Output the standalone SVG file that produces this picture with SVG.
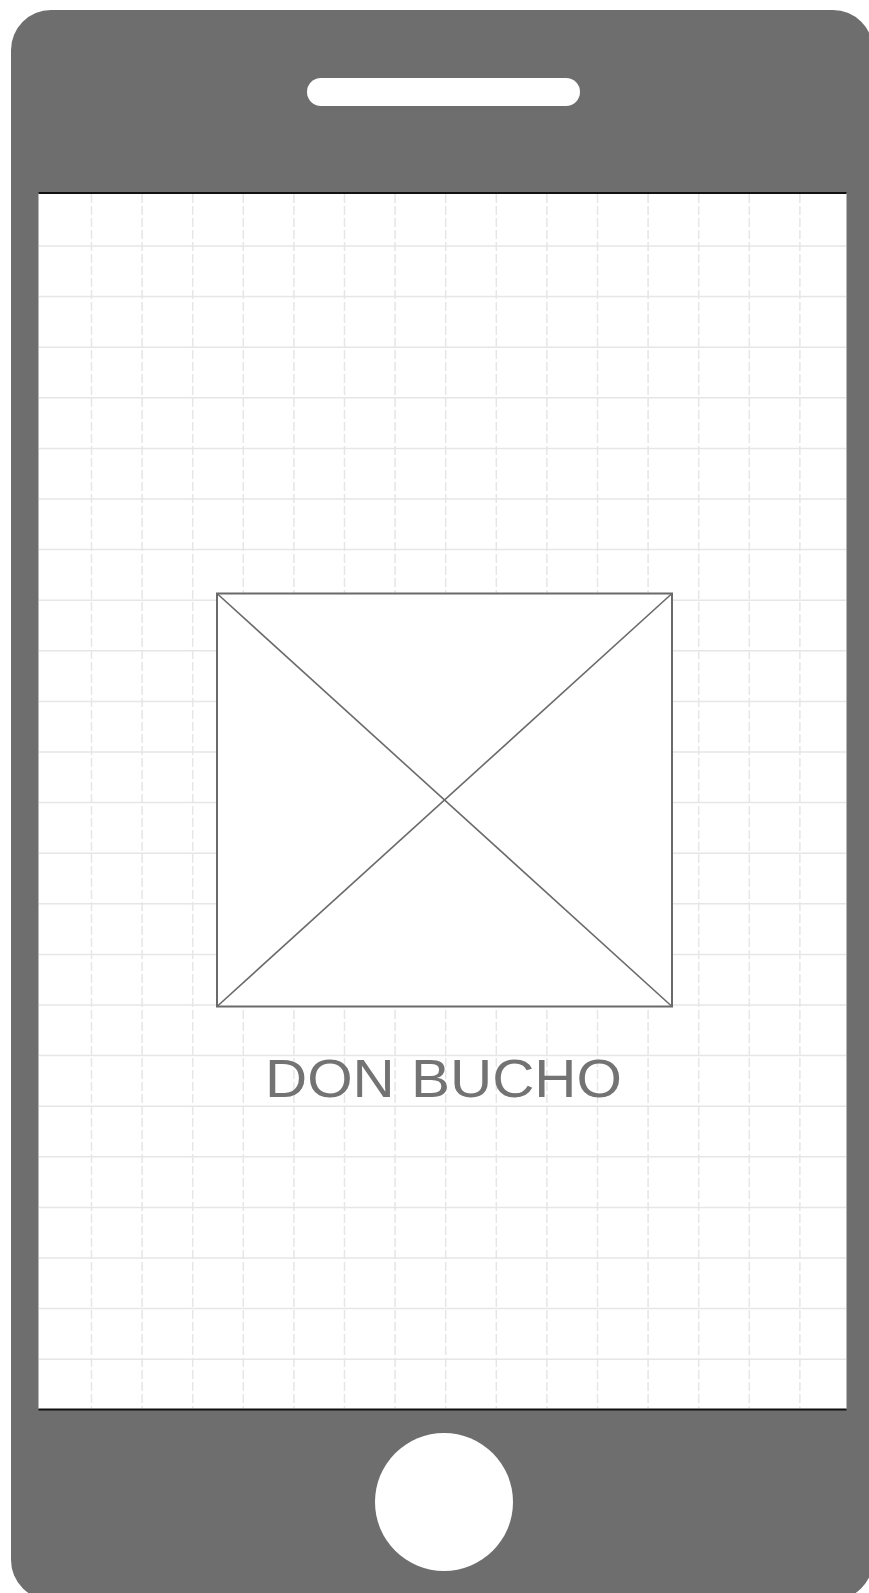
<svg xmlns="http://www.w3.org/2000/svg" width="869" height="1593" viewBox="0 0 869 1593">
<style>
.body{fill:#6e6e6e}
.hole{fill:#ffffff}
.screen{fill:#ffffff}
.edge{stroke:#111111;stroke-width:2}
.gv{stroke:#e6e6e6;stroke-width:1.5;stroke-dasharray:9 3}
.gh{stroke:#e6e6e6;stroke-width:1.5}
.box{fill:#ffffff;stroke:#6a6a6a;stroke-width:2}
.diag{stroke:#6a6a6a;stroke-width:1.6}
.label{font-family:"Liberation Sans",Arial,sans-serif;font-size:54px;fill:#737373}
</style>
<g id="phone">
<rect class="body" x="11" y="10" width="862" height="1590" rx="40" ry="40"/>
<rect id="speaker" class="hole" x="307" y="78" width="273" height="28" rx="14" ry="14"/>
<circle id="home-button" class="hole" cx="444" cy="1502" r="69"/>
</g>
<g id="screen">
<rect class="screen" x="38.5" y="193" width="808" height="1216"/>
<g id="grid">
<line class="gv" x1="91.5" y1="194" x2="91.5" y2="1408"/>
<line class="gv" x1="142.1" y1="194" x2="142.1" y2="1408"/>
<line class="gv" x1="192.7" y1="194" x2="192.7" y2="1408"/>
<line class="gv" x1="243.3" y1="194" x2="243.3" y2="1408"/>
<line class="gv" x1="293.9" y1="194" x2="293.9" y2="1408"/>
<line class="gv" x1="344.5" y1="194" x2="344.5" y2="1408"/>
<line class="gv" x1="395.1" y1="194" x2="395.1" y2="1408"/>
<line class="gv" x1="445.7" y1="194" x2="445.7" y2="1408"/>
<line class="gv" x1="496.3" y1="194" x2="496.3" y2="1408"/>
<line class="gv" x1="546.9" y1="194" x2="546.9" y2="1408"/>
<line class="gv" x1="597.5" y1="194" x2="597.5" y2="1408"/>
<line class="gv" x1="648.1" y1="194" x2="648.1" y2="1408"/>
<line class="gv" x1="698.7" y1="194" x2="698.7" y2="1408"/>
<line class="gv" x1="749.3" y1="194" x2="749.3" y2="1408"/>
<line class="gv" x1="799.9" y1="194" x2="799.9" y2="1408"/>
<line class="gh" x1="39" y1="246" x2="846" y2="246"/>
<line class="gh" x1="39" y1="296.6" x2="846" y2="296.6"/>
<line class="gh" x1="39" y1="347.2" x2="846" y2="347.2"/>
<line class="gh" x1="39" y1="397.8" x2="846" y2="397.8"/>
<line class="gh" x1="39" y1="448.4" x2="846" y2="448.4"/>
<line class="gh" x1="39" y1="499" x2="846" y2="499"/>
<line class="gh" x1="39" y1="549.6" x2="846" y2="549.6"/>
<line class="gh" x1="39" y1="600.2" x2="846" y2="600.2"/>
<line class="gh" x1="39" y1="650.8" x2="846" y2="650.8"/>
<line class="gh" x1="39" y1="701.4" x2="846" y2="701.4"/>
<line class="gh" x1="39" y1="752" x2="846" y2="752"/>
<line class="gh" x1="39" y1="802.6" x2="846" y2="802.6"/>
<line class="gh" x1="39" y1="853.2" x2="846" y2="853.2"/>
<line class="gh" x1="39" y1="903.8" x2="846" y2="903.8"/>
<line class="gh" x1="39" y1="954.4" x2="846" y2="954.4"/>
<line class="gh" x1="39" y1="1005" x2="846" y2="1005"/>
<line class="gh" x1="39" y1="1055.6" x2="846" y2="1055.6"/>
<line class="gh" x1="39" y1="1106.2" x2="846" y2="1106.2"/>
<line class="gh" x1="39" y1="1156.8" x2="846" y2="1156.8"/>
<line class="gh" x1="39" y1="1207.4" x2="846" y2="1207.4"/>
<line class="gh" x1="39" y1="1258" x2="846" y2="1258"/>
<line class="gh" x1="39" y1="1308.6" x2="846" y2="1308.6"/>
<line class="gh" x1="39" y1="1359.2" x2="846" y2="1359.2"/>
</g>
<line class="edge" x1="38.5" y1="193" x2="846.5" y2="193"/>
<line class="edge" x1="38.5" y1="1409.5" x2="846.5" y2="1409.5"/>
</g>
<g id="image-placeholder">
<rect class="box" x="217" y="593.5" width="455" height="413"/>
<line class="diag" x1="217" y1="593.5" x2="672" y2="1006.5"/>
<line class="diag" x1="672" y1="593.5" x2="217" y2="1006.5"/>
</g>
<g id="title">
<text class="label" x="443.5" y="1097" text-anchor="middle" textLength="357" lengthAdjust="spacingAndGlyphs">DON BUCHO</text>
</g>
</svg>
